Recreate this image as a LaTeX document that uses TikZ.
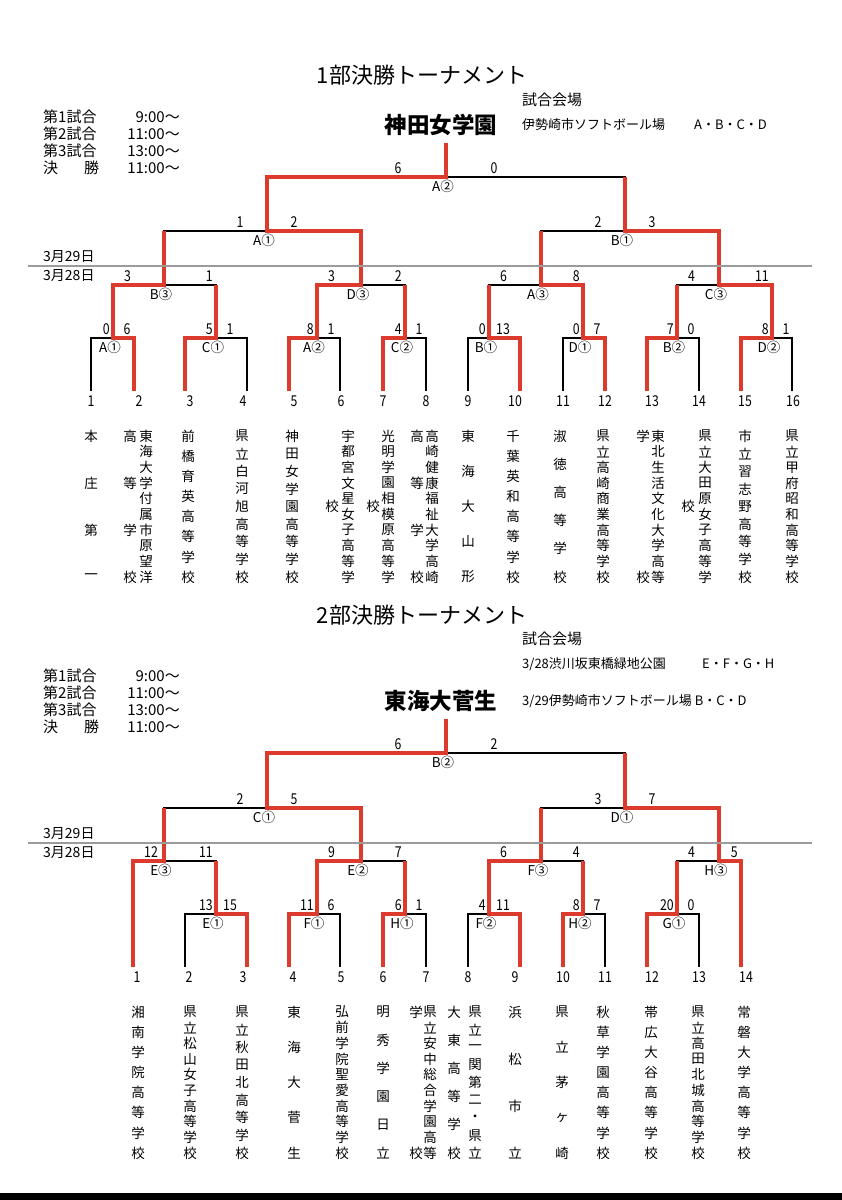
\documentclass[tikz,border=0pt]{standalone}
\usepackage{fontspec}
\usepackage{tikz}
\usetikzlibrary{calc}
\setmainfont{Noto Sans CJK JP}
\newfontfamily\narrowfont{Noto Sans CJK JP}[FakeStretch=0.82]
\definecolor{winred}{HTML}{DC3A2C}
\definecolor{dategray}{HTML}{9B9B9B}
\tikzset{
  bline/.style={black, line width=1.3pt},
  win/.style={winred, line width=4pt},
  dline/.style={dategray, line width=1.5pt},
  sc/.style={inner sep=0pt, font=\narrowfont\fontsize{15}{17}\selectfont},
  lab/.style={inner sep=0pt, anchor=north, font=\fontsize{13.5}{15}\selectfont},
  num/.style={inner sep=0pt, font=\narrowfont\fontsize{15}{17}\selectfont},
  nm/.style={inner sep=0pt, font=\fontsize{13.5}{15}\selectfont},
  sched/.style={inner sep=0pt, font=\fontsize{15}{17}\selectfont},
  title/.style={inner sep=0pt, font=\fontsize{22}{25}\selectfont},
  champ/.style={inner sep=0pt, font=\fontsize{22.5}{25}\selectfont\bfseries},
  venue/.style={inner sep=0pt, anchor=west, font=\fontsize{13}{15}\selectfont},
  datetxt/.style={inner sep=0pt, anchor=west, font=\fontsize{14}{16}\selectfont},
}
% vertical school name: name, x, top y, count, chars
\newcommand{\vcol}[5]{\foreach \ch [count=\i] in {#5}{\node[nm] (#1-\i) at (#2,{#3+(\i-1)*141/(#4-1)}) {\ch};}}
% round 1 result
\newcommand{\rfirst}[4]{%
  \node[lab] (#1n) at ($(#1)+(-3,3)$) {#2};
  \node[sc, anchor=south east] (#1l) at ($(#1)+(-3,-3)$) {#3};
  \node[sc, anchor=south] (#1r) at ($(#1)+(14,-3)$) {#4};}
% second round result
\newcommand{\rquart}[6]{%
  \node[lab] (#1n) at ($(#1)+(-3,3)$) {#2};
  \node[sc, anchor=south west] (#1l) at ($(#3 |- #1)+(11,-3)$) {#5};
  \node[sc, anchor=south east] (#1r) at ($(#4 |- #1)+(-3,-3)$) {#6};}
% semi / final result
\newcommand{\rupper}[5]{%
  \node[lab] (#1n) at ($(#1)+(-3,3)$) {#2};
  \node[sc, anchor=south] (#1l) at ($(#1)+(-#5,-3)$) {#3};
  \node[sc, anchor=south] (#1r) at ($(#1)+(#5,-3)$) {#4};}
% schedule block
\newcommand{\sched}[2]{%
  \foreach \a/\t [count=\i] in {第1試合\hfill/9:00～,第2試合\hfill/11:00～,第3試合\hfill/13:00～,決\hfill 勝/11:00～}{
    \node[sched, anchor=west] (#1d\i) at (43,{#2+(\i-1)*17}) {\hbox to 56pt{\a}};
    \node[sched, anchor=east] (#1t\i) at (180,{#2+(\i-1)*17}) {\t};}}

\begin{document}
\begin{tikzpicture}[x=1pt, y=-1pt]
\useasboundingbox (0,0) rectangle (842,1200);

% ---------- 1部 ----------
\node[title] (t1) at (422,75) {1部決勝トーナメント};
\node[venue, font=\fontsize{15}{17}\selectfont] (v1) at (522,100) {試合会場};
\node[champ] (c1) at (441,125) {神田女学園};
\node[venue] (v2) at (522,125) {伊勢崎市ソフトボール場};
\node[venue] (v3) at (694,125) {A・B・C・D};
\sched{a}{117}

\foreach \n/\x/\nx in {1/91/91,2/134/139,3/185/190,4/247/243,5/289/294,6/340/341,7/383/383,8/426/426,9/468/468,10/520/515,11/563/563,12/605/605,13/647/652,14/699/699,15/741/745,16/792/793}{
  \coordinate (at\n) at (\x,391);
  \node[num] (an\n) at (\nx,401) {\n};}

\coordinate (a11) at (113,338);
\coordinate (a12) at (216,338);
\coordinate (a13) at (317,338);
\coordinate (a14) at (405,338);
\coordinate (a15) at (489,338);
\coordinate (a16) at (583,338);
\coordinate (a17) at (677,338);
\coordinate (a18) at (772,338);
\coordinate (a21) at (164,285);
\coordinate (a22) at (361,285);
\coordinate (a23) at (541,285);
\coordinate (a24) at (719,285);
\coordinate (a31) at (267,231);
\coordinate (a32) at (625,231);
\coordinate (a4) at (446,177);
\coordinate (a5) at (446,143);

\foreach \m/\l/\r in {a11/at1/at2,a12/at3/at4,a13/at5/at6,a14/at7/at8,a15/at9/at10,a16/at11/at12,a17/at13/at14,a18/at15/at16,a21/a11/a12,a22/a13/a14,a23/a15/a16,a24/a17/a18,a31/a21/a22,a32/a23/a24,a4/a31/a32}
  \draw[bline] (\l) |- (\m) -| (\r);
\foreach \m/\w/\p in {a11/at2/a21,a12/at3/a21,a13/at5/a22,a14/at7/a22,a15/at10/a23,a16/at12/a23,a17/at13/a24,a18/at15/a24,a21/a11/a31,a22/a13/a31,a23/a16/a32,a24/a18/a32,a31/a22/a4,a32/a24/a4,a4/a31/a5}
  \draw[win] (\w) |- (\m) -- (\m |- \p);

\rfirst{a11}{A①}{0}{6}
\rfirst{a12}{C①}{5}{1}
\rfirst{a13}{A②}{8}{1}
\rfirst{a14}{C②}{4}{1}
\rfirst{a15}{B①}{0}{13}
\rfirst{a16}{D①}{0}{7}
\rfirst{a17}{B②}{7}{0}
\rfirst{a18}{D②}{8}{1}
\rquart{a21}{B③}{a11}{a12}{3}{1}
\rquart{a22}{D③}{a13}{a14}{3}{2}
\rquart{a23}{A③}{a15}{a16}{6}{8}
\rquart{a24}{C③}{a17}{a18}{4}{11}
\rupper{a31}{A①}{1}{2}{27}
\rupper{a32}{B①}{2}{3}{27}
\rupper{a4}{A②}{6}{0}{48}

\draw[dline] (28,266) -- (812,266);
\node[datetxt] (d1) at (43,257) {3月29日};
\node[datetxt] (d2) at (43,276) {3月28日};

\vcol{ua1}{91}{436}{4}{本,庄,第,一}
\vcol{ua2}{146}{436}{10}{東,海,大,学,付,属,市,原,望,洋}
\vcol{ub2}{130}{436}{4}{高,等,学,校}
\vcol{ua3}{188}{436}{8}{前,橋,育,英,高,等,学,校}
\vcol{ua4}{242}{436}{9}{県,立,白,河,旭,高,等,学,校}
\vcol{ua5}{292}{436}{9}{神,田,女,学,園,高,等,学,校}
\vcol{ua6}{348}{436}{10}{宇,都,宮,文,星,女,子,高,等,学}
\node[nm] (ub6) at (332,506) {校};
\vcol{ua7}{388}{436}{10}{光,明,学,園,相,模,原,高,等,学}
\node[nm] (ub7) at (373,506) {校};
\vcol{ua8}{432}{436}{10}{高,崎,健,康,福,祉,大,学,高,崎}
\vcol{ub8}{417}{436}{4}{高,等,学,校}
\vcol{ua9}{468}{436}{5}{東,海,大,山,形}
\vcol{ua10}{513}{436}{8}{千,葉,英,和,高,等,学,校}
\vcol{ua11}{560}{436}{6}{淑,徳,高,等,学,校}
\vcol{ua12}{603}{436}{10}{県,立,高,崎,商,業,高,等,学,校}
\vcol{ua13}{658}{436}{10}{東,北,生,活,文,化,大,学,高,等}
\vcol{ub13}{643}{436}{2}{学,校}
\vcol{ua14}{705}{436}{10}{県,立,大,田,原,女,子,高,等,学}
\node[nm] (ub14) at (688,506) {校};
\vcol{ua15}{745}{436}{9}{市,立,習,志,野,高,等,学,校}
\vcol{ua16}{792}{436}{10}{県,立,甲,府,昭,和,高,等,学,校}

% ---------- 2部 ----------
\node[title] (t2) at (422,615) {2部決勝トーナメント};
\node[venue, font=\fontsize{15}{17}\selectfont] (v4) at (522,639) {試合会場};
\node[venue] (v5) at (522,664) {3/28渋川坂東橋緑地公園};
\node[venue] (v6) at (702,664) {E・F・G・H};
\node[champ] (c2) at (441,701) {東海大菅生};
\node[venue] (v7) at (522,701) {3/29伊勢崎市ソフトボール場 B・C・D};
\sched{b}{676}

\foreach \n/\x/\nx in {1/133/137,2/185/189,3/247/243,4/289/293,5/340/341,6/383/383,7/426/426,8/468/468,9/520/515,10/563/563,11/605/605,12/647/652,13/699/699,14/741/746}{
  \coordinate (bt\n) at (\x,967);
  \node[num] (bn\n) at (\nx,977) {\n};}

\coordinate (b11) at (216,914);
\coordinate (b12) at (317,914);
\coordinate (b13) at (405,914);
\coordinate (b14) at (489,914);
\coordinate (b15) at (583,914);
\coordinate (b16) at (677,914);
\coordinate (b21) at (164,861);
\coordinate (b22) at (361,861);
\coordinate (b23) at (541,861);
\coordinate (b24) at (719,861);
\coordinate (b31) at (267,808);
\coordinate (b32) at (625,808);
\coordinate (b4) at (446,753);
\coordinate (b5) at (446,719);

\foreach \m/\l/\r in {b11/bt2/bt3,b12/bt4/bt5,b13/bt6/bt7,b14/bt8/bt9,b15/bt10/bt11,b16/bt12/bt13,b21/bt1/b11,b22/b12/b13,b23/b14/b15,b24/b16/bt14,b31/b21/b22,b32/b23/b24,b4/b31/b32}
  \draw[bline] (\l) |- (\m) -| (\r);
\foreach \m/\w/\p in {b11/bt3/b21,b12/bt4/b22,b13/bt6/b22,b14/bt9/b23,b15/bt10/b23,b16/bt12/b24,b21/bt1/b31,b22/b12/b31,b23/b14/b32,b24/bt14/b32,b31/b22/b4,b32/b24/b4,b4/b31/b5}
  \draw[win] (\w) |- (\m) -- (\m |- \p);

\rfirst{b11}{E①}{13}{15}
\rfirst{b12}{F①}{11}{6}
\rfirst{b13}{H①}{6}{1}
\rfirst{b14}{F②}{4}{11}
\rfirst{b15}{H②}{8}{7}
\rfirst{b16}{G①}{20}{0}
\rquart{b21}{E③}{bt1}{b11}{12}{11}
\rquart{b22}{E②}{b12}{b13}{9}{7}
\rquart{b23}{F③}{b14}{b15}{6}{4}
\rquart{b24}{H③}{b16}{bt14}{4}{5}
\rupper{b31}{C①}{2}{5}{27}
\rupper{b32}{D①}{3}{7}{27}
\rupper{b4}{B②}{6}{2}{48}

\draw[dline] (28,843) -- (812,843);
\node[datetxt] (d3) at (43,834) {3月29日};
\node[datetxt] (d4) at (43,853) {3月28日};

\vcol{la1}{138}{1012}{8}{湘,南,学,院,高,等,学,校}
\vcol{la2}{190}{1012}{10}{県,立,松,山,女,子,高,等,学,校}
\vcol{la3}{242}{1012}{9}{県,立,秋,田,北,高,等,学,校}
\vcol{la4}{294}{1012}{5}{東,海,大,菅,生}
\vcol{la5}{342}{1012}{10}{弘,前,学,院,聖,愛,高,等,学,校}
\vcol{la6}{383}{1012}{6}{明,秀,学,園,日,立}
\vcol{la7}{430}{1012}{10}{県,立,安,中,総,合,学,園,高,等}
\vcol{lb7}{416}{1012}{2}{学,校}
\vcol{la8}{475}{1012}{9}{県,立,一,関,第,二,・,県,立}
\vcol{lb8}{454}{1012}{6}{大,東,高,等,学,校}
\vcol{la9}{515}{1012}{4}{浜,松,市,立}
\vcol{la10}{562}{1012}{5}{県,立,茅,ヶ,崎}
\vcol{la11}{603}{1012}{8}{秋,草,学,園,高,等,学,校}
\vcol{la12}{651}{1012}{8}{帯,広,大,谷,高,等,学,校}
\vcol{la13}{698}{1012}{10}{県,立,高,田,北,城,高,等,学,校}
\vcol{la14}{744}{1012}{8}{常,磐,大,学,高,等,学,校}

\fill[black] (0,1193) rectangle (842,1200);
\end{tikzpicture}
\end{document}
